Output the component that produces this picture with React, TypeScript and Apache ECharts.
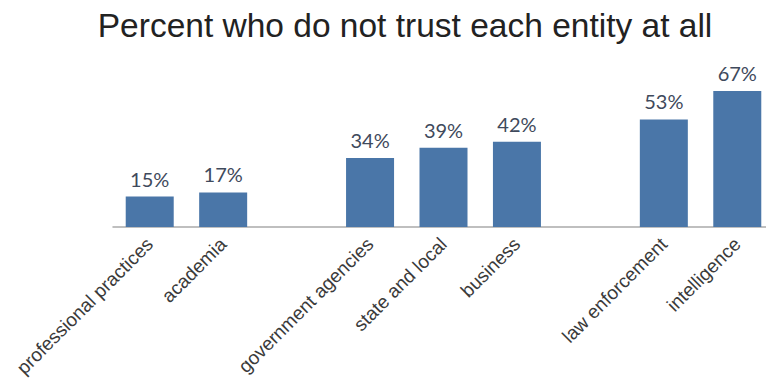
import React, { useEffect, useRef } from "react";
import * as echarts from "echarts";

const titleText = "Percent who do not trust each entity at all";
const categories = [
  "professional practices",
  "academia",
  "",
  "government agencies",
  "state and local",
  "business",
  "",
  "law enforcement",
  "intelligence",
];
const values: (number | null)[] = [15, 17, null, 34, 39, 42, null, 53, 67];

export default function App() {
  const ref = useRef<HTMLDivElement>(null);
  useEffect(() => {
    if (!ref.current) return;
    const chart = echarts.init(ref.current, undefined, { renderer: "svg" });
    chart.setOption({
      animation: false,
      title: {
        text: titleText,
        left: 400,
        textAlign: "center",
        top: 3,
        textStyle: {
          fontFamily: "Liberation Sans, Arial, sans-serif",
          fontSize: 33.5,
          fontWeight: "normal",
          color: "#222",
        },
      },
      grid: { left: 113, top: 24, width: 664, height: 203, containLabel: false },
      xAxis: {
        type: "category",
        data: categories,
        axisTick: { show: false },
        axisLine: { lineStyle: { color: "#aaa", width: 1.5 } },
        axisLabel: {
          interval: 0,
          rotate: 45,
          margin: 14,
          fontFamily: "Liberation Sans, Arial, sans-serif",
          fontSize: 19,
          color: "#3a3a3a",
        },
      },
      yAxis: {
        type: "value",
        min: 0,
        max: 100,
        show: false,
        splitLine: { show: false },
      },
      series: [
        {
          type: "bar",
          data: values,
          barWidth: 48,
          itemStyle: { color: "#4a76a8" },
          label: {
            show: true,
            position: "top",
            distance: 8,
            formatter: "{c}%",
            fontFamily: "Lato, sans-serif",
            fontSize: 20,
            color: "#3f4a5c",
          },
        },
      ],
    });
    return () => chart.dispose();
  }, []);
  return <div ref={ref} style={{ width: 774, height: 388, margin: -8 }} />;
}
